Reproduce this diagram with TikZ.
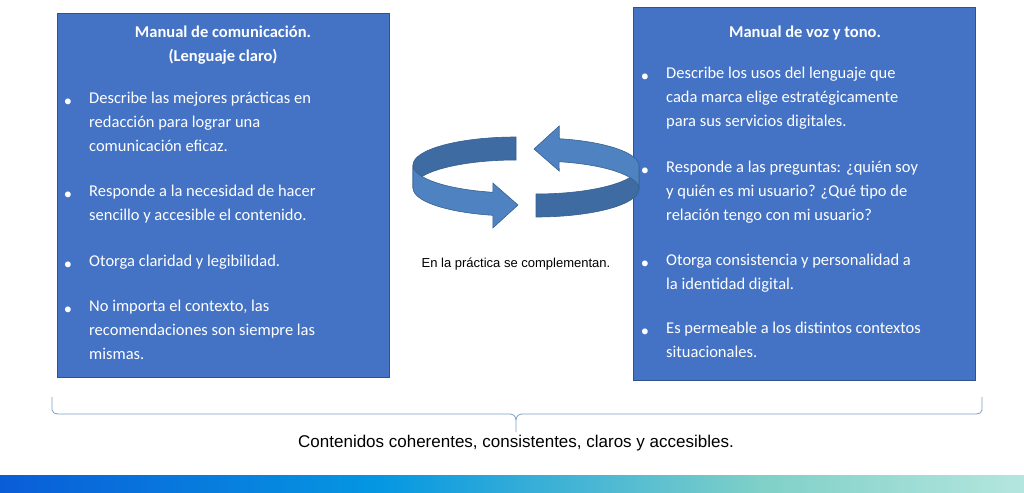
\documentclass[tikz,border=0pt]{standalone}
\usepackage{fontspec}
\setmainfont{Carlito}
\newfontfamily\arialf{Liberation Sans}
\begin{document}
\begin{tikzpicture}[x=1pt,y=-1pt,
  box/.style={fill=boxblue,draw=boxedge,line width=1pt},
  txt/.style={anchor=north west,inner sep=0pt,align=left,text=white,font=\fontsize{16.5}{24}\selectfont},
  ttl/.style={inner sep=0pt,align=center,text=white,font=\fontsize{16.5}{24}\selectfont\bfseries},
  bul/.style={inner sep=0pt,text=white,font=\fontsize{16.5}{24}\selectfont},
  back/.style={fill=backblue,draw=ribedge,line width=0.6pt},
  front/.style={fill=frontblue,draw=ribedge,line width=0.6pt}]
\definecolor{boxblue}{HTML}{4472C4}
\definecolor{boxedge}{HTML}{2F528F}
\definecolor{backblue}{HTML}{3F6BA3}
\definecolor{frontblue}{HTML}{4F82C0}
\definecolor{ribedge}{HTML}{36608F}
\definecolor{bracec}{HTML}{7F9FC9}
\definecolor{g1}{HTML}{0A5DD8}
\definecolor{g2}{HTML}{0597E2}
\definecolor{g3}{HTML}{7FD0C8}
\definecolor{g4}{HTML}{B4E6DE}
\useasboundingbox (0,0) rectangle (1024,492);
\fill[white] (0,0) rectangle (1024,492);
% gradient bar
\shade[left color=g1,right color=g2] (0,475) rectangle (380,492);
\shade[left color=g2,right color=g3] (380,475) rectangle (760,492);
\shade[left color=g3,right color=g4] (760,475) rectangle (1024,492);
% boxes
\node[box,minimum width=332pt,minimum height=364pt,anchor=north west,inner sep=0pt] (L) at (57,13) {};
\node[box,minimum width=342pt,minimum height=373pt,anchor=north west,inner sep=0pt] (R) at (633,7) {};
\node[ttl] (lt) at (223,45) {Manual de comunicación.\\(Lenguaje claro)};
\node[ttl] (rt) at (805,33) {Manual de voz y tono.};
% left bullets
\foreach \n/\y in {a/103,b/196,c/266,d/311}{\node[bul] (lb\n) at (68,\y) {•};}
\node[txt] (l1) at (89,92) {Describe las mejores prácticas en\\redacción para lograr una\\comunicación eficaz.};
\node[txt] (l2) at (89,185) {Responde a la necesidad de hacer\\sencillo y accesible el contenido.};
\node[txt] (l3) at (89,255) {Otorga claridad y legibilidad.};
\node[txt] (l4) at (89,300) {No importa el contexto, las\\recomendaciones son siempre las\\mismas.};
% right bullets
\foreach \n/\y in {a/78,b/172,c/265,d/333}{\node[bul] (rb\n) at (645,\y) {•};}
\node[txt] (r1) at (666,67) {Describe los usos del lenguaje que\\cada marca elige estratégicamente\\para sus servicios digitales.};
\node[txt] (r2) at (666,161) {Responde a las preguntas: ¿quién soy\\y quién es mi usuario? ¿Qué tipo de\\relación tengo con mi usuario?};
\node[txt] (r3) at (666,254) {Otorga consistencia y personalidad a\\la identidad digital.};
\node[txt] (r4) at (666,322) {Es permeable a los distintos contextos\\situacionales.};
% circular arrows
\foreach \r in {0,180}{
\begin{scope}[rotate around={\r:(526,177)}]
\draw[back] (516,137) arc[start angle=-90,end angle=-180,x radius=103,y radius=28]
  -- (413,188) arc[start angle=180,end angle=270,x radius=103,y radius=28] -- cycle;
\draw[front] (413,165) arc[start angle=180,end angle=103,x radius=103,y radius=28]
  -- (492.8,183) -- (518,205) -- (492.8,228) -- (492.8,215.3)
  arc[start angle=103,end angle=180,x radius=103,y radius=28] -- cycle;
\end{scope}}
\node[inner sep=0pt,font=\arialf\fontsize{13}{15}\selectfont] (mid) at (516,264) {En la práctica se complementan.};
% brace
\coordinate (b1) at (52,397);
\coordinate (b2) at (982,397);
\coordinate (bt) at (516,432);
\draw[bracec,line width=0.8pt] (b1) -- (52,410) to[out=-90,in=180] (58,414) -- (510,414) to[out=0,in=90] (516,420) -- (bt);
\draw[bracec,line width=0.8pt] (b2) -- (982,410) to[out=-90,in=0] (976,414) -- (522,414) to[out=180,in=90] (516,420);
\node[inner sep=0pt,font=\arialf\fontsize{17}{20}\selectfont] (bottom) at (516,443) {Contenidos coherentes, consistentes, claros y accesibles.};
\end{tikzpicture}
\end{document}
